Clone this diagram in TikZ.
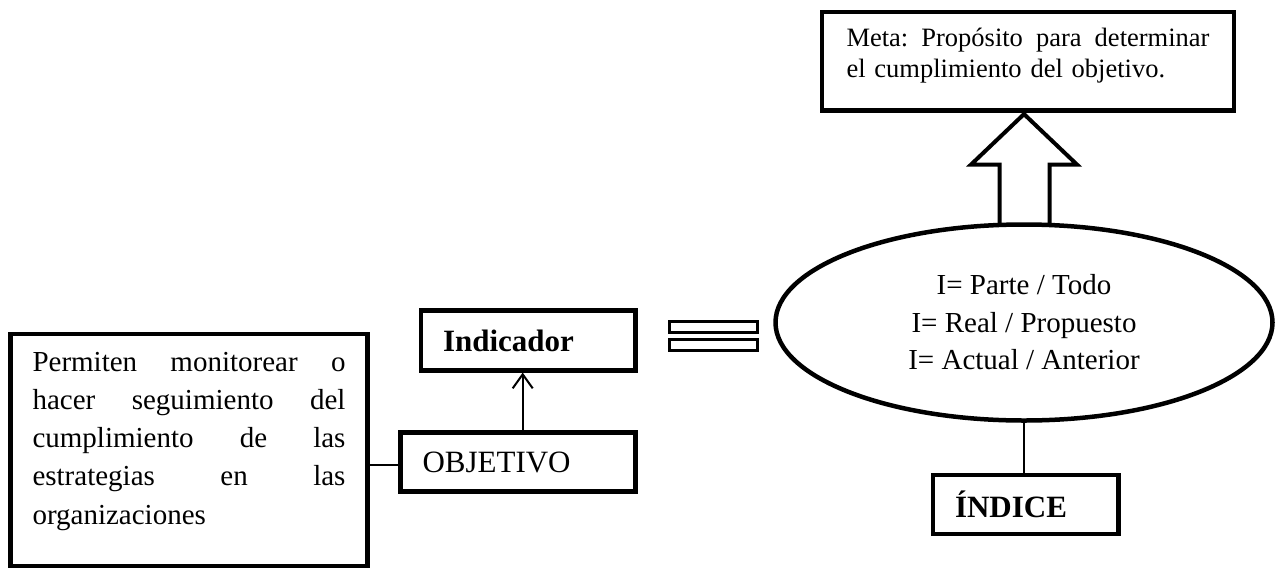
\documentclass[tikz,border=0pt]{standalone}
\usepackage{fontspec}
\setmainfont{Liberation Serif}
\usetikzlibrary{shapes.geometric,arrows.meta,calc}
\newcommand{\jline}[2]{\leavevmode\hbox to #1{#2}}
\begin{document}
\begin{tikzpicture}[x=1pt,y=-1pt,
  box/.style={draw, line width=4.2pt, inner xsep=22pt, inner ysep=0pt, align=left},
  thinline/.style={line width=1.8pt},
  eqbar/.style={draw, line width=3pt, minimum width=88pt, minimum height=11pt, inner sep=0pt},
  blockarrow/.style={line width=4pt, line join=miter},
  ovalbox/.style={draw, ellipse, line width=4.5pt, inner sep=0pt, minimum width=497pt, minimum height=196pt, align=center},
]
\fill[white] (0,0) rectangle (1288,568);
\useasboundingbox (0,0) rectangle (1288,568);

% left description box
\node[box, minimum width=357pt, minimum height=232pt, text width=313pt,
      font=\fontsize{29}{38.25}\selectfont] (leftbox) at (189,450)
  {\jline{313pt}{Permiten\hfill monitorear\hfill o}\\
   \jline{313pt}{hacer\hfill seguimiento\hfill del}\\
   \jline{313pt}{cumplimiento\hfill de\hfill las}\\
   \jline{313pt}{estrategias\hfill en\hfill las}\\
   organizaciones\rule[-24pt]{0pt}{1pt}};

% OBJETIVO and Indicador
\node[box, minimum width=235pt, minimum height=59pt, text width=191pt,
      font=\fontsize{31}{37}\selectfont] (obj) at (518,462) {OBJETIVO};
\node[box, minimum width=214.5pt, minimum height=60pt, text width=170.5pt,
      font=\bfseries\fontsize{31}{37}\selectfont] (ind) at (528.25,340.5) {Indicador};

% equals sign
\node[eqbar] (eqtop) at (713.8,326.5) {};
\node[eqbar] (eqbot) at (713.8,344.5) {};

% ellipse
\node[ovalbox, font=\fontsize{29}{37.5}\selectfont] (ell) at (1024,322.5)
  {I= Parte / Todo\\I= Real / Propuesto\\I= Actual / Anterior};

% Meta box
\node[box, minimum width=412pt, minimum height=98.5pt, text width=363pt,
      font=\fontsize{26.5}{31}\selectfont] (meta) at (1028,61.25)
  {\jline{363pt}{Meta:\hfill Propósito\hfill para\hfill determinar}\\
   el cumplimiento del objetivo.\rule[-16pt]{0pt}{1pt}};

% INDICE box
\node[box, minimum width=185.5pt, minimum height=59pt, text width=141.5pt,
      font=\bfseries\fontsize{31}{37}\selectfont] (indice) at (1025.75,504.5) {ÍNDICE};

% connectors
\draw[thinline] ([yshift=-3pt]obj.west) -- ([yshift=-3pt]obj.west -| leftbox.east);
\draw[line width=2pt, -{Straight Barb[length=14pt,width=20pt]}]
  ([xshift=4.7pt]obj.north) -- ([xshift=4.7pt]obj.north |- ind.south);
\draw[line width=1.5pt] (ell.south) -- (ell.south |- indice.north);

% block arrow from ellipse to Meta
\draw[blockarrow]
  ($(ell.north)+(-24.5,3)$)
  -- ($(ell.north |- meta.south)+(-24.5,52)$)
  -- ($(ell.north |- meta.south)+(-53,52)$)
  -- ($(ell.north |- meta.south)+(0,1.5)$)
  -- ($(ell.north |- meta.south)+(53,52)$)
  -- ($(ell.north |- meta.south)+(25.5,52)$)
  -- ($(ell.north)+(25.5,3)$);
\end{tikzpicture}
\end{document}
